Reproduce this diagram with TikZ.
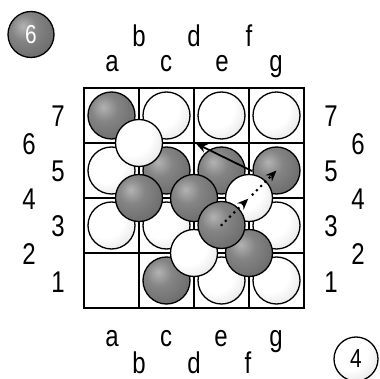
\documentclass[tikz,border=0pt]{standalone}
\usepackage{fontspec}
\setmainfont{Liberation Sans}[FakeStretch=0.8]
\usetikzlibrary{arrows.meta}
\pgfdeclareradialshading{darkballsh}{\pgfpoint{-9bp}{9bp}}{color(0bp)=(black!30); color(14bp)=(black!48); color(34bp)=(black!58); color(48bp)=(black!68); color(60bp)=(black!82); color(100bp)=(black!82)}
\pgfdeclareradialshading{whiteballsh}{\pgfpoint{-9bp}{9bp}}{color(0bp)=(white); color(20bp)=(white); color(36bp)=(black!10); color(48bp)=(black!32); color(60bp)=(black!60); color(100bp)=(black!60)}
\tikzset{
  ball/.style={circle, minimum size=47pt, inner sep=0pt, draw=black, line width=1.3pt},
  dk/.style={ball, shading=darkballsh},
  wt/.style={ball, shading=whiteballsh},
  lbl/.style={font=\fontsize{30}{30}\selectfont, anchor=base, inner sep=0pt},
  badgetxt/.style={font=\fontsize{26}{26}\selectfont},
  gridline/.style={line width=2.6pt, black},
  solidarrow/.style={line width=1.8pt, -{Stealth[length=11pt,width=9pt]}},
  dotarrow/.style={line width=3pt, line cap=round, dash pattern=on 0pt off 6pt, -{Stealth[length=11pt,width=9pt]}}
}
\begin{document}
\begin{tikzpicture}[x=1pt,y=-1pt]
\useasboundingbox (0,0) rectangle (380,379);
% board
\draw[gridline] (84,88) rectangle (304,308);
\draw[gridline] (139,88) -- (139,308) (194,88) -- (194,308) (249,88) -- (249,308);
\draw[gridline] (84,143) -- (304,143) (84,198) -- (304,198) (84,253) -- (304,253);
% level 1
\node[dk] (a7) at (111.5,115.5) {};
\node[wt] (c7) at (166.5,115.5) {};
\node[wt] (e7) at (221.5,115.5) {};
\node[wt] (g7) at (276.5,115.5) {};
\node[wt] (a5) at (111.5,170.5) {};
\node[dk] (c5) at (166.5,170.5) {};
\node[dk] (e5) at (221.5,170.5) {};
\node[dk] (g5) at (276.5,170.5) {};
\node[wt] (a3) at (111.5,225.5) {};
\node[wt] (c3) at (166.5,225.5) {};
\node[wt] (g3) at (276.5,225.5) {};
\node[dk] (c1) at (166.5,280.5) {};
\node[wt] (e1) at (221.5,280.5) {};
\node[wt] (g1) at (276.5,280.5) {};
% level 2
\node[wt] (b6) at (139,143) {};
\node[dk] (b4) at (139,198) {};
\node[dk] (d4) at (194,198) {};
\node[wt] (f4) at (249,198) {};
\node[wt] (d2) at (194,253) {};
\node[dk] (f2) at (249,253) {};
% level 3
\node[dk] (E3) at (221.5,225) {};
% arrows
\coordinate (d6) at (196,143.5);
\coordinate (tail) at (252,171);
\draw[solidarrow] (tail) -- (d6);
\draw[dotarrow, shorten >=1pt] (E3.center) -- (f4.center);
\draw[dotarrow, shorten <=5pt] (f4.center) -- (g5.center);
% column labels
\node[lbl] (ta) at (112,72) {a};
\node[lbl] (tc) at (166,72) {c};
\node[lbl] (te) at (222,72) {e};
\node[lbl] (tg) at (276,72) {g};
\node[lbl] (tb) at (139,47) {b};
\node[lbl] (td) at (194,47) {d};
\node[lbl] (tf) at (249,47) {f};
\node[lbl] (ba) at (112,346) {a};
\node[lbl] (bc) at (166,346) {c};
\node[lbl] (be) at (221,346) {e};
\node[lbl] (bg) at (276,346) {g};
\node[lbl] (bb) at (139,373) {b};
\node[lbl] (bd) at (194,373) {d};
\node[lbl] (bf) at (248,373) {f};
% row labels
\node[lbl] (l7) at (58,127) {7};
\node[lbl] (l5) at (58,182) {5};
\node[lbl] (l3) at (58,237) {3};
\node[lbl] (l1) at (58,292) {1};
\node[lbl] (l6) at (29,155) {6};
\node[lbl] (l4) at (29,210) {4};
\node[lbl] (l2) at (29,265) {2};
\node[lbl] (r7) at (331,127) {7};
\node[lbl] (r5) at (331,182) {5};
\node[lbl] (r3) at (331,237) {3};
\node[lbl] (r1) at (331,292) {1};
\node[lbl] (r6) at (358,155) {6};
\node[lbl] (r4) at (358,210) {4};
\node[lbl] (r2) at (358,265) {2};
% badges
\node[dk, minimum size=46pt, text=white, badgetxt] (badge6) at (31,34.5) {6};
\node[wt, minimum size=44pt, badgetxt] (badge4) at (356,359) {4};
\end{tikzpicture}
\end{document}
